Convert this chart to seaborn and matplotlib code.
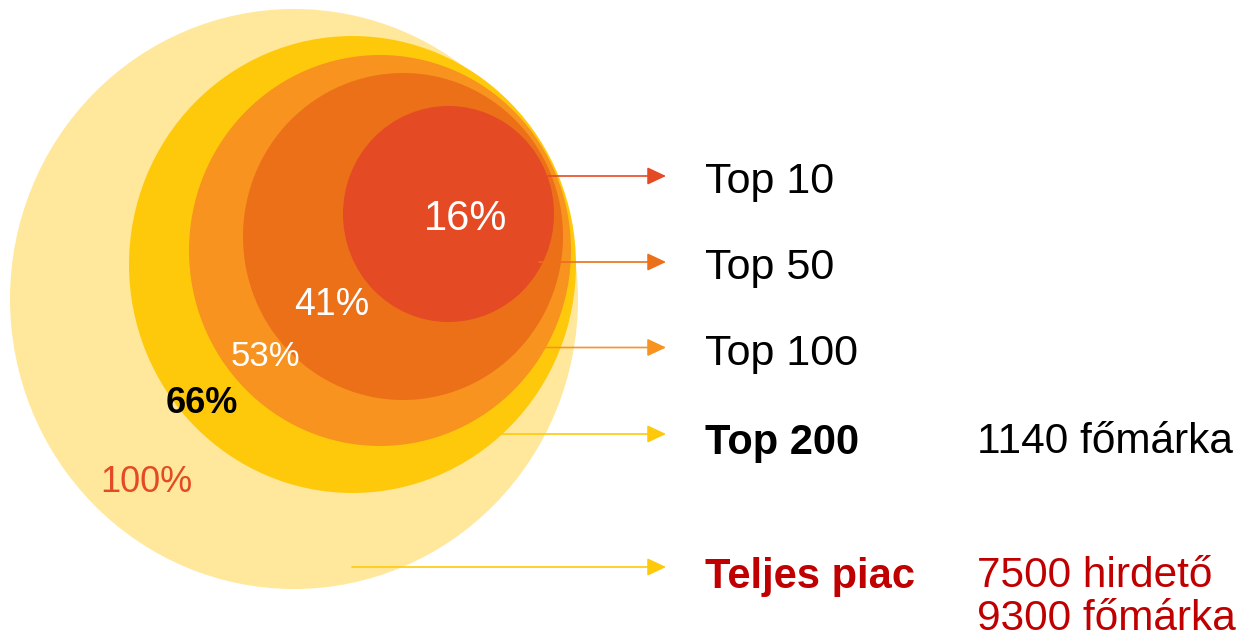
import seaborn as sns
import matplotlib.pyplot as plt
from matplotlib.patches import Ellipse

# nested circles, outermost first (pixel geometry)
shares = ['100%', '66%', '53%', '41%', '16%']
circle_x = [294, 352.5, 380, 403, 448.5]
circle_y = [299, 264.5, 250.5, 236.5, 214]
circle_w = [568, 447, 382, 320, 211]
circle_h = [580, 457, 391, 327, 216]
circle_colors = ['#FFE89B', '#FFC90B', '#F7931E', '#EB7018', '#E44A23']

# share labels inside the circles
share_x = [146.5, 201.5, 265, 332, 466]
share_y = [491.5, 413, 366.5, 315, 230]
share_size = [26, 26, 25, 27, 30]
share_colors = ['#E44A23', 'black', 'white', 'white', 'white']
share_weight = ['normal', 'bold', 'normal', 'normal', 'normal']

# arrows and labels on the right
groups = ['Top 10', 'Top 50', 'Top 100', 'Top 200', 'Teljes piac']
arrow_y = [176, 262, 347.5, 434, 567]
arrow_start = [548, 539, 540, 498, 352]
arrow_colors = ['#E44A23', '#EB7018', '#F7931E', '#FFC90B', '#FFC90B']
group_baseline = [193, 279, 364.5, 454, 588]
group_colors = ['black', 'black', 'black', 'black', '#C00000']
group_weight = ['normal', 'normal', 'normal', 'bold', 'bold']

notes = ['1140 főmárka', '7500 hirdető', '9300 főmárka']
note_baseline = [453, 587, 630]
note_colors = ['black', '#C00000', '#C00000']

sns.set_theme(style='white')
plt.rcParams['font.family'] = ['Liberation Sans', 'DejaVu Sans']

fig = plt.figure(figsize=(12.42, 6.43), dpi=100)
ax = fig.add_axes([0, 0, 1, 1])
ax.set_xlim(0, 1242)
ax.set_ylim(643, 0)
ax.axis('off')

for i in range(len(shares)):
    ax.add_patch(Ellipse((circle_x[i], circle_y[i]), circle_w[i], circle_h[i],
                         facecolor=circle_colors[i], edgecolor='none', zorder=1 + i))

for i in range(len(shares)):
    ax.text(share_x[i], share_y[i], shares[i], ha='center', va='baseline',
            fontsize=share_size[i], color=share_colors[i],
            fontweight=share_weight[i], zorder=10)

for i in range(len(groups)):
    ax.annotate('', xy=(666, arrow_y[i]), xytext=(arrow_start[i], arrow_y[i]),
                arrowprops=dict(arrowstyle='-|>,head_length=11.5,head_width=5.4',
                                color=arrow_colors[i], lw=1.2, mutation_scale=1,
                                shrinkA=0, shrinkB=0), zorder=11)
    ax.text(705, group_baseline[i], groups[i], ha='left', va='baseline',
            fontsize=31 if group_weight[i] == 'normal' else 30,
            color=group_colors[i], fontweight=group_weight[i])

for i in range(len(notes)):
    ax.text(977, note_baseline[i], notes[i], ha='left', va='baseline',
            fontsize=30.5, color=note_colors[i])

fig.savefig('out.png', dpi=100)
